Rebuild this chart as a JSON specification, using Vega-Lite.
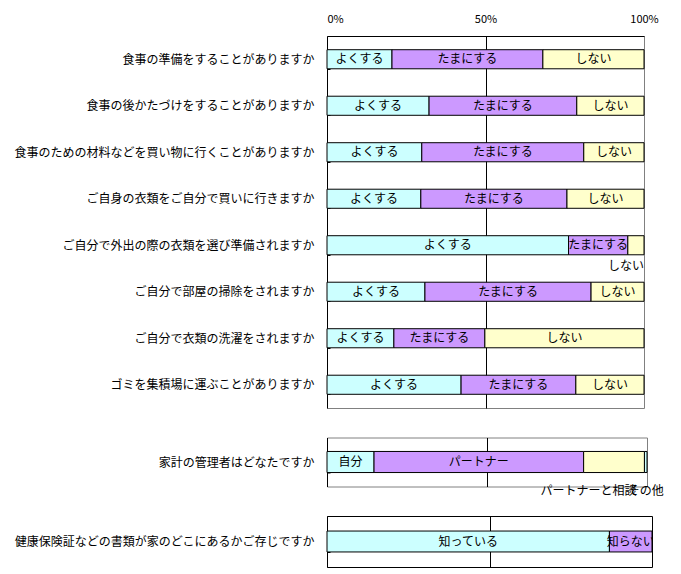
{
  "$schema": "https://vega.github.io/schema/vega-lite/v6.json",
  "background": "white",
  "padding": {"left": 13, "top": 12, "right": 5, "bottom": 5},
  "bounds": "flush",
  "spacing": 29.5,
  "resolve": {"scale": {"x": "independent", "y": "independent"}},
  "config": {
    "font": "Noto Sans CJK JP",
    "axis": {"labelFont": "Noto Sans CJK JP", "labelColor": "black", "titleFont": "Noto Sans CJK JP"},
    "text": {"font": "Noto Sans CJK JP", "fontSize": 12, "color": "black"}
  },
  "datasets": {
    "main": [
      {"q": "食事の準備をすることがありますか", "c": "よくする", "k": 1, "v": 20.5},
      {"q": "食事の準備をすることがありますか", "c": "たまにする", "k": 2, "v": 47.6},
      {"q": "食事の準備をすることがありますか", "c": "しない", "k": 3, "v": 31.9},
      {"q": "食事の後かたづけをすることがありますか", "c": "よくする", "k": 1, "v": 32.2},
      {"q": "食事の後かたづけをすることがありますか", "c": "たまにする", "k": 2, "v": 46.6},
      {"q": "食事の後かたづけをすることがありますか", "c": "しない", "k": 3, "v": 21.2},
      {"q": "食事のための材料などを買い物に行くことがありますか", "c": "よくする", "k": 1, "v": 29.9},
      {"q": "食事のための材料などを買い物に行くことがありますか", "c": "たまにする", "k": 2, "v": 51.1},
      {"q": "食事のための材料などを買い物に行くことがありますか", "c": "しない", "k": 3, "v": 19.0},
      {"q": "ご自身の衣類をご自分で買いに行きますか", "c": "よくする", "k": 1, "v": 29.6},
      {"q": "ご自身の衣類をご自分で買いに行きますか", "c": "たまにする", "k": 2, "v": 46.1},
      {"q": "ご自身の衣類をご自分で買いに行きますか", "c": "しない", "k": 3, "v": 24.3},
      {"q": "ご自分で外出の際の衣類を選び準備されますか", "c": "よくする", "k": 1, "v": 76.2},
      {"q": "ご自分で外出の際の衣類を選び準備されますか", "c": "たまにする", "k": 2, "v": 18.7},
      {"q": "ご自分で外出の際の衣類を選び準備されますか", "c": "しない", "k": 3, "v": 5.1},
      {"q": "ご自分で部屋の掃除をされますか", "c": "よくする", "k": 1, "v": 30.9},
      {"q": "ご自分で部屋の掃除をされますか", "c": "たまにする", "k": 2, "v": 52.4},
      {"q": "ご自分で部屋の掃除をされますか", "c": "しない", "k": 3, "v": 16.7},
      {"q": "ご自分で衣類の洗濯をされますか", "c": "よくする", "k": 1, "v": 21.1},
      {"q": "ご自分で衣類の洗濯をされますか", "c": "たまにする", "k": 2, "v": 28.7},
      {"q": "ご自分で衣類の洗濯をされますか", "c": "しない", "k": 3, "v": 50.2},
      {"q": "ゴミを集積場に運ぶことがありますか", "c": "よくする", "k": 1, "v": 42.3},
      {"q": "ゴミを集積場に運ぶことがありますか", "c": "たまにする", "k": 2, "v": 36.2},
      {"q": "ゴミを集積場に運ぶことがありますか", "c": "しない", "k": 3, "v": 21.5}
    ],
    "kakei": [
      {"q": "家計の管理者はどなたですか", "c": "自分", "k": 1, "v": 14.7},
      {"q": "家計の管理者はどなたですか", "c": "パートナー", "k": 2, "v": 65.5},
      {"q": "家計の管理者はどなたですか", "c": "パートナーと相談", "k": 3, "v": 19.0},
      {"q": "家計の管理者はどなたですか", "c": "その他", "k": 4, "v": 0.8}
    ],
    "hoken": [
      {"q": "健康保険証などの書類が家のどこにあるかご存じですか", "c": "知っている", "k": 1, "v": 86.9},
      {"q": "健康保険証などの書類が家のどこにあるかご存じですか", "c": "知らない", "k": 2, "v": 13.1}
    ]
  },
  "vconcat": [
    {
      "width": 317,
      "height": 372,
      "view": {"stroke": "#808080", "strokeWidth": 1},
      "data": {"name": "main"},
      "transform": [
        {"stack": "v", "groupby": ["q"], "sort": [{"field": "k"}], "as": ["x0", "x1"]},
        {"calculate": "(datum.x0 + datum.x1) / 2", "as": "xm"}
      ],
      "encoding": {
        "y": {
          "field": "q", "type": "nominal",
          "sort": ["食事の準備をすることがありますか", "食事の後かたづけをすることがありますか", "食事のための材料などを買い物に行くことがありますか", "ご自身の衣類をご自分で買いに行きますか", "ご自分で外出の際の衣類を選び準備されますか", "ご自分で部屋の掃除をされますか", "ご自分で衣類の洗濯をされますか", "ゴミを集積場に運ぶことがありますか"],
          "scale": {"paddingInner": 0.59, "paddingOuter": 0.295},
          "axis": {"title": null, "labelFontSize": 12, "labelLimit": 400, "domainColor": "black", "tickColor": "black", "tickBand": "extent", "tickSize": -3, "labelPadding": 16}
        }
      },
      "layer": [
        {
          "mark": {"type": "bar", "stroke": "black", "strokeWidth": 1},
          "encoding": {
            "x": {
              "field": "x0", "type": "quantitative",
              "scale": {"domain": [0, 100], "nice": false},
              "axis": {"orient": "top", "values": [0, 50, 100], "labelExpr": "datum.value + '%'", "title": null, "ticks": false, "domainColor": "black", "grid": true, "gridColor": "black", "gridOpacity": {"condition": {"test": "datum.value === 50", "value": 1}, "value": 0}, "labelFontSize": 11, "labelPadding": 12, "labelAlign": {"condition": {"test": "datum.value === 0", "value": "left"}, "value": "center"}}
            },
            "x2": {"field": "x1"},
            "color": {
              "field": "c", "type": "nominal", "legend": null,
              "scale": {"domain": ["よくする", "たまにする", "しない", "自分", "パートナー", "パートナーと相談", "その他", "知っている", "知らない"], "range": ["#CCFFFF", "#CC99FF", "#FFFFCC", "#CCFFFF", "#CC99FF", "#FFFFCC", "#CCFFFF", "#CCFFFF", "#CC99FF"]}
            }
          }
        },
        {
          "transform": [{"filter": "!(datum.c === 'しない' && datum.k === 3 && datum.v < 6)"}],
          "mark": {"type": "text", "align": "center", "baseline": "middle", "fontSize": 12},
          "encoding": {"x": {"field": "xm", "type": "quantitative"}, "text": {"field": "c"}}
        },
        {
          "transform": [{"filter": "datum.c === 'しない' && datum.v < 6"}],
          "mark": {"type": "text", "align": "right", "baseline": "middle", "fontSize": 12, "dy": 21, "dx": 0},
          "encoding": {"x": {"field": "x1", "type": "quantitative"}, "text": {"field": "c"}}
        }
      ]
    },
    {
      "width": 320,
      "height": 49,
      "view": {"stroke": "#808080", "strokeWidth": 1},
      "data": {"name": "kakei"},
      "transform": [
        {"stack": "v", "groupby": ["q"], "sort": [{"field": "k"}], "as": ["x0", "x1"]},
        {"calculate": "(datum.x0 + datum.x1) / 2", "as": "xm"}
      ],
      "encoding": {
        "y": {
          "field": "q", "type": "nominal",
          "scale": {"paddingInner": 0.57, "paddingOuter": 0.285},
          "axis": {"title": null, "labelFontSize": 12, "labelLimit": 400, "domainColor": "black", "tickColor": "black", "tickBand": "extent", "tickSize": -3, "labelPadding": 16}
        }
      },
      "layer": [
        {
          "mark": {"type": "bar", "stroke": "black", "strokeWidth": 1},
          "encoding": {
            "x": {
              "field": "x0", "type": "quantitative",
              "scale": {"domain": [0, 100], "nice": false},
              "axis": {"values": [50], "labels": false, "title": null, "ticks": false, "domain": false, "grid": true, "gridColor": "black"}
            },
            "x2": {"field": "x1"},
            "color": {
              "field": "c", "type": "nominal", "legend": null,
              "scale": {"domain": ["よくする", "たまにする", "しない", "自分", "パートナー", "パートナーと相談", "その他", "知っている", "知らない"], "range": ["#CCFFFF", "#CC99FF", "#FFFFCC", "#CCFFFF", "#CC99FF", "#FFFFCC", "#CCFFFF", "#CCFFFF", "#CC99FF"]}
            }
          }
        },
        {
          "transform": [{"filter": "datum.k <= 2"}],
          "mark": {"type": "text", "align": "center", "baseline": "middle", "fontSize": 12},
          "encoding": {"x": {"field": "xm", "type": "quantitative"}, "text": {"field": "c"}}
        },
        {
          "transform": [{"filter": "datum.k === 4"}],
          "mark": {"type": "text", "align": "center", "baseline": "middle", "fontSize": 12, "dy": 29},
          "encoding": {"x": {"field": "xm", "type": "quantitative"}, "text": {"field": "c"}}
        },
        {
          "transform": [{"filter": "datum.k === 3"}],
          "mark": {"type": "text", "align": "right", "baseline": "middle", "fontSize": 12, "dy": 29, "dx": -8},
          "encoding": {"x": {"field": "x1", "type": "quantitative"}, "text": {"field": "c"}}
        }
      ]
    },
    {
      "width": 325,
      "height": 51,
      "view": {"stroke": "black", "strokeWidth": 1},
      "data": {"name": "hoken"},
      "transform": [
        {"stack": "v", "groupby": ["q"], "sort": [{"field": "k"}], "as": ["x0", "x1"]},
        {"calculate": "(datum.x0 + datum.x1) / 2", "as": "xm"}
      ],
      "encoding": {
        "y": {
          "field": "q", "type": "nominal",
          "scale": {"paddingInner": 0.59, "paddingOuter": 0.295},
          "axis": {"title": null, "labelFontSize": 12, "labelLimit": 400, "domainColor": "black", "tickColor": "black", "tickBand": "extent", "tickSize": -3, "labelPadding": 16}
        }
      },
      "layer": [
        {
          "mark": {"type": "bar", "stroke": "black", "strokeWidth": 1},
          "encoding": {
            "x": {
              "field": "x0", "type": "quantitative",
              "scale": {"domain": [0, 100], "nice": false},
              "axis": {"values": [50], "labels": false, "title": null, "ticks": false, "domain": false, "grid": true, "gridColor": "black"}
            },
            "x2": {"field": "x1"},
            "color": {
              "field": "c", "type": "nominal", "legend": null,
              "scale": {"domain": ["よくする", "たまにする", "しない", "自分", "パートナー", "パートナーと相談", "その他", "知っている", "知らない"], "range": ["#CCFFFF", "#CC99FF", "#FFFFCC", "#CCFFFF", "#CC99FF", "#FFFFCC", "#CCFFFF", "#CCFFFF", "#CC99FF"]}
            }
          }
        },
        {
          "mark": {"type": "text", "align": "center", "baseline": "middle", "fontSize": 12, "clip": true},
          "encoding": {"x": {"field": "xm", "type": "quantitative"}, "text": {"field": "c"}}
        }
      ]
    }
  ]
}
